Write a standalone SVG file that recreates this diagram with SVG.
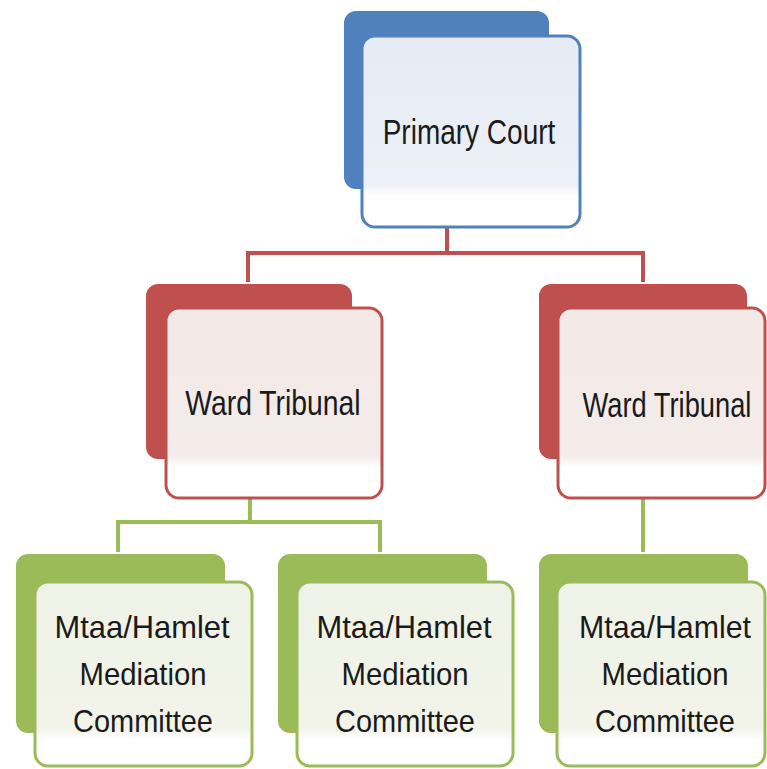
<svg xmlns="http://www.w3.org/2000/svg" width="767" height="769" viewBox="0 0 767 769">
<defs>
<linearGradient id="gB" x1="0" y1="0" x2="0" y2="1"><stop offset="0" stop-color="#e6ebf4"/><stop offset="0.78" stop-color="#ecf0f7"/><stop offset="0.84" stop-color="#ffffff"/><stop offset="1" stop-color="#ffffff"/></linearGradient>
<linearGradient id="gR" x1="0" y1="0" x2="0" y2="1"><stop offset="0" stop-color="#f3e9e7"/><stop offset="0.78" stop-color="#f4ecea"/><stop offset="0.84" stop-color="#ffffff"/><stop offset="1" stop-color="#ffffff"/></linearGradient>
<linearGradient id="gG" x1="0" y1="0" x2="0" y2="1"><stop offset="0" stop-color="#eff2e6"/><stop offset="0.8" stop-color="#f2f4ea"/><stop offset="0.86" stop-color="#ffffff"/><stop offset="1" stop-color="#ffffff"/></linearGradient>
</defs>
<style>
.back{stroke:#ffffff;stroke-width:2}
.bb{fill:#4f81bd}.rb{fill:#c0504d}.gb{fill:#9bbb59}
.front{stroke-width:3}
.bf{fill:url(#gB);stroke:#4f81bd}.rf{fill:url(#gR);stroke:#c0504d}.gf{fill:url(#gG);stroke:#9bbb59}
.lbl{font-family:"Liberation Sans",Arial,sans-serif;font-size:35px;fill:#1a1a1a;text-anchor:middle}
.sm{font-size:32px}
.cr{fill:none;stroke:#c0504d;stroke-width:4}
.cg{fill:none;stroke:#9bbb59;stroke-width:4}
</style>
<rect width="767" height="769" fill="#ffffff"/>
<g id="connectors">
<path class="cr" d="M447 227 V253 M248 282 V253 H643 V283"/>
<path class="cg" d="M250 498 V522 M118 553 V522 H380 V553"/>
<path class="cg" d="M643 498 V553"/>
</g>
<g id="primary-court">
<rect class="back bb" x="343" y="10" width="207" height="180" rx="13"/>
<rect class="front bf" x="362" y="36" width="218" height="191" rx="13"/>
<text class="lbl" transform="translate(469 144) scale(0.8 1)">Primary Court</text>
</g>
<g id="ward-tribunal-1">
<rect class="back rb" x="145" y="283" width="208" height="177" rx="13"/>
<rect class="front rf" x="166" y="308" width="216" height="190" rx="13"/>
<text class="lbl" transform="translate(273 415) scale(0.81 1)">Ward Tribunal</text>
</g>
<g id="ward-tribunal-2">
<rect class="back rb" x="538" y="283" width="210" height="177" rx="13"/>
<rect class="front rf" x="558" y="308" width="207" height="190" rx="13"/>
<text class="lbl" transform="translate(667 417) scale(0.78 1)">Ward Tribunal</text>
</g>
<g id="committee-1">
<rect class="back gb" x="15" y="553" width="211" height="181" rx="13"/>
<rect class="front gf" x="35" y="582" width="217" height="184" rx="13"/>
<text class="lbl sm" transform="translate(142 638) scale(0.965 1)">Mtaa/Hamlet</text>
<text class="lbl sm" transform="translate(143 685) scale(0.916 1)">Mediation</text>
<text class="lbl sm" transform="translate(143 732) scale(0.905 1)">Committee</text>
</g>
<g id="committee-2">
<rect class="back gb" x="277" y="553" width="211" height="181" rx="13"/>
<rect class="front gf" x="297" y="582" width="216" height="184" rx="13"/>
<text class="lbl sm" transform="translate(404 638) scale(0.965 1)">Mtaa/Hamlet</text>
<text class="lbl sm" transform="translate(405 685) scale(0.916 1)">Mediation</text>
<text class="lbl sm" transform="translate(405 732) scale(0.905 1)">Committee</text>
</g>
<g id="committee-3">
<rect class="back gb" x="538" y="553" width="211" height="181" rx="13"/>
<rect class="front gf" x="557" y="582" width="208" height="184" rx="13"/>
<text class="lbl sm" transform="translate(665 638) scale(0.948 1)">Mtaa/Hamlet</text>
<text class="lbl sm" transform="translate(665 685) scale(0.916 1)">Mediation</text>
<text class="lbl sm" transform="translate(665 732) scale(0.905 1)">Committee</text>
</g>
</svg>
